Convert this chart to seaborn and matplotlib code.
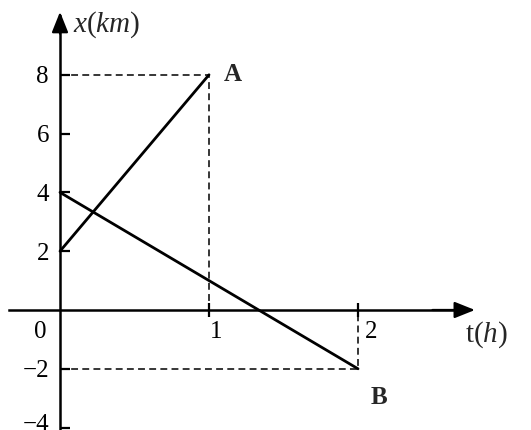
import matplotlib
matplotlib.use("Agg")
import matplotlib.pyplot as plt
import matplotlib.transforms as mtransforms
import seaborn as sns
import pandas as pd

# ---- data ----
t_A = [0, 1]
x_A = [2, 8]
t_B = [0, 2]
x_B = [4, -2]
x_ticks = [0, 1, 2]
x_tick_labels = ["0", "1", "2"]
y_ticks = [-4, -2, 2, 4, 6, 8]
y_tick_labels = ["\u22124", "\u22122", "2", "4", "6", "8"]

sns.set_style("white")
plt.rcParams["font.family"] = ["Liberation Serif", "DejaVu Serif"]
plt.rcParams["mathtext.fontset"] = "custom"
plt.rcParams["mathtext.rm"] = "Liberation Serif"
plt.rcParams["mathtext.it"] = "Liberation Serif:italic"
plt.rcParams["mathtext.bf"] = "Liberation Serif:bold"

fig = plt.figure(figsize=(5.31, 4.30), dpi=100)
ax = fig.add_axes([0, 0, 1, 1])
ax.set_facecolor("white")

df = pd.DataFrame({
    "t": t_A + t_B,
    "x": x_A + x_B,
    "obj": ["A"] * len(t_A) + ["B"] * len(t_B),
})
sns.lineplot(data=df, x="t", y="x", hue="obj", palette=["black", "black"],
             legend=False, lw=2.0, estimator=None, sort=False, ax=ax)

# dashed guides
dash = (0, (4.5, 2.8))
ax.plot([0, t_A[-1], t_A[-1]], [x_A[-1], x_A[-1], 0], ls=dash, lw=1.1, color="black")
ax.plot([0, t_B[-1], t_B[-1]], [x_B[-1], x_B[-1], 0], ls=dash, lw=1.1, color="black")

ax.set_xlim(-0.4027, 3.161)
ax.set_ylim(-4.082, 10.544)
ax.set_xlabel("")
ax.set_ylabel("")

for s in ["top", "right"]:
    ax.spines[s].set_visible(False)
ax.spines["left"].set_position(("data", 0))
ax.spines["bottom"].set_position(("data", 0))
ax.spines["left"].set_bounds(-4.082, 10.0)
ax.spines["bottom"].set_bounds(-0.34, 2.7)
for s in ["left", "bottom"]:
    ax.spines[s].set_linewidth(1.8)
    ax.spines[s].set_color("black")

# arrow heads
arrow = dict(arrowstyle="-|>,head_length=0.5,head_width=0.2", mutation_scale=25,
             color="black", lw=1.6, shrinkA=0, shrinkB=0)
ax.annotate("", xy=(0, 10.14), xytext=(0, 9.4), arrowprops=arrow)
ax.annotate("", xy=(2.785, 0), xytext=(2.5, 0), arrowprops=arrow)

# ticks
ax.set_xticks(x_ticks, x_tick_labels)
ax.set_yticks(y_ticks, y_tick_labels)
ax.tick_params(axis="y", direction="in", length=7, width=1.6, pad=8,
               labelsize=18, colors="black", left=True)
ax.tick_params(axis="x", direction="inout", length=10, width=1.6, pad=3,
               labelsize=18, colors="black", bottom=True)
xt = ax.xaxis.get_major_ticks()
xt[0].tick1line.set_visible(False)
offsets_px = [-20, 7, 13]
for lab, dx in zip(ax.get_xticklabels(), offsets_px):
    lab.set_transform(lab.get_transform() +
                      mtransforms.ScaledTranslation(dx / 100, 0, fig.dpi_scale_trans))
# lift the bottom tick label a little so it stays mostly in view (as in the reference)
ylabs = ax.get_yticklabels()
ylabs[0].set_transform(ylabs[0].get_transform() +
                       mtransforms.ScaledTranslation(0, 5 / 100, fig.dpi_scale_trans))

# labels
ax.annotate("A", xy=(t_A[-1], x_A[-1]), xytext=(17, 0), textcoords="offset points",
            ha="center", va="center", fontsize=18, fontweight="bold")
ax.annotate("B", xy=(t_B[-1], x_B[-1]), xytext=(15, -21), textcoords="offset points",
            ha="center", va="center", fontsize=18, fontweight="bold")
ax.text(0.087, 9.69, "$x(km)$", ha="left", va="center", fontsize=21)
ax.text(2.72, -0.85, "t$(h)$", ha="left", va="center", fontsize=21)

fig.savefig("out.png", dpi=100, facecolor="white")
